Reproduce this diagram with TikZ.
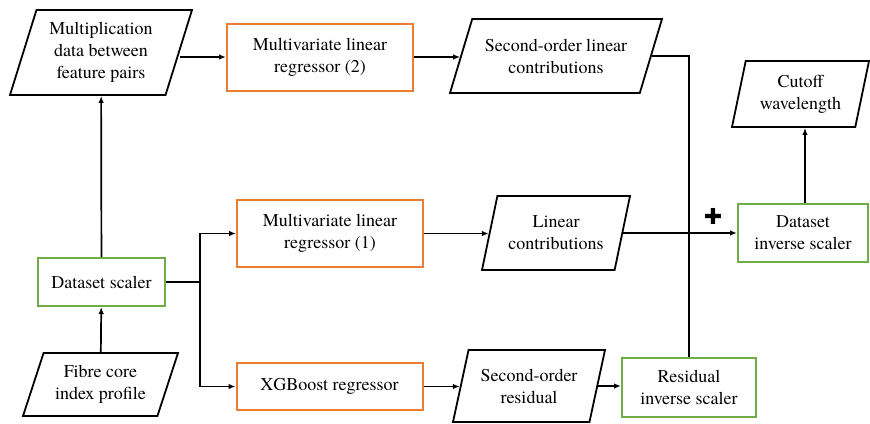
\documentclass[tikz,border=0pt]{standalone}
\usepackage{fontspec}
\setmainfont{texgyretermes-regular.otf}
\newfontfamily\symbolfont{DejaVu Sans}
\usepackage{tikz}
\usetikzlibrary{arrows.meta,shapes.geometric}
\definecolor{regorange}{HTML}{ED7D31}
\definecolor{scalegreen}{HTML}{70AD47}

\begin{document}
\begin{tikzpicture}[
    x=1pt, y=-1pt,
    every node/.style={font=\fontsize{18}{22}\selectfont, align=center, inner sep=2pt},
    regressor/.style={draw=regorange, line width=2pt, minimum width=186pt, minimum height=67pt},
    scalerbox/.style={draw=scalegreen, line width=2pt},
    data/.style={draw, line width=1.8pt, trapezium, trapezium stretches body,
                 trapezium left angle=#1, trapezium right angle=180-#1},
    conn/.style={line width=1.7pt},
    arr/.style={conn, -{Latex[length=7pt,width=5.5pt]}}
]
\useasboundingbox (0,0) rectangle (870,423);

% inputs and scaling
\node[data=67.6, minimum width=182pt, minimum height=85pt] (mult) at (101,52.5)
  {Multiplication\\data between\\feature pairs};
\node[scalerbox, minimum width=127pt, minimum height=48pt] (scaler) at (101.5,282) {Dataset scaler};
\node[data=64, minimum width=155pt, minimum height=63pt] (fibre) at (100.5,384.5)
  {Fibre core\\index profile};

% regressors
\node[regressor] (reg2) at (320,57) {Multivariate linear\\regressor (2)};
\node[regressor] (reg1) at (330,233.5) {Multivariate linear\\regressor (1)};
\node[regressor, minimum height=47pt] (xgb) at (329.5,386.5) {XGBoost regressor};

% contributions
\node[data=60, minimum width=212pt, minimum height=74pt] (sol) at (556,56)
  {Second-order linear\\contributions};
\node[data=68, minimum width=148pt, minimum height=74pt] (lin) at (556,233)
  {Linear\\contributions};
\node[data=68, minimum width=152pt, minimum height=72pt] (sor) at (529,386)
  {Second-order\\residual};

% inverse scaling and output
\node[scalerbox, minimum width=134pt, minimum height=59pt] (ris) at (689,387.5)
  {Residual\\inverse scaler};
\node[scalerbox, minimum width=130pt, minimum height=58pt] (dis) at (803,233)
  {Dataset\\inverse scaler};
\node[data=72, minimum width=137pt, minimum height=66pt] (cutoff) at (800.5,94)
  {Cutoff\\wavelength};
\node[font=\symbolfont\fontsize{22}{22}\selectfont] (plus) at (713,216) {✚};

\coordinate (split) at (200,282);

\draw[arr] (fibre) -- (scaler);
\draw[arr] (scaler) -- (mult);
\draw[arr] (mult.east |- reg2.west) -- (reg2.west);
\draw[arr] (reg2.east) -- (reg2.east -| sol.west);
\draw[conn] (sol.east) -| (ris.north);

\draw[conn] (scaler.east) -- (split);
\draw[arr] (split) |- (reg1.west);
\draw[arr] (split) |- (xgb.west);

\draw[arr] (reg1.east) -- (reg1.east -| lin.west);
\draw[arr] (lin.east) -- (dis.west);
\draw[arr] (xgb.east) -- (xgb.east -| sor.west);
\draw[arr] (sor.east) -- (sor.east -| ris.west);
\draw[arr] (dis.north -| 805,0) -- (cutoff.south -| 805,0);

\end{tikzpicture}
\end{document}
